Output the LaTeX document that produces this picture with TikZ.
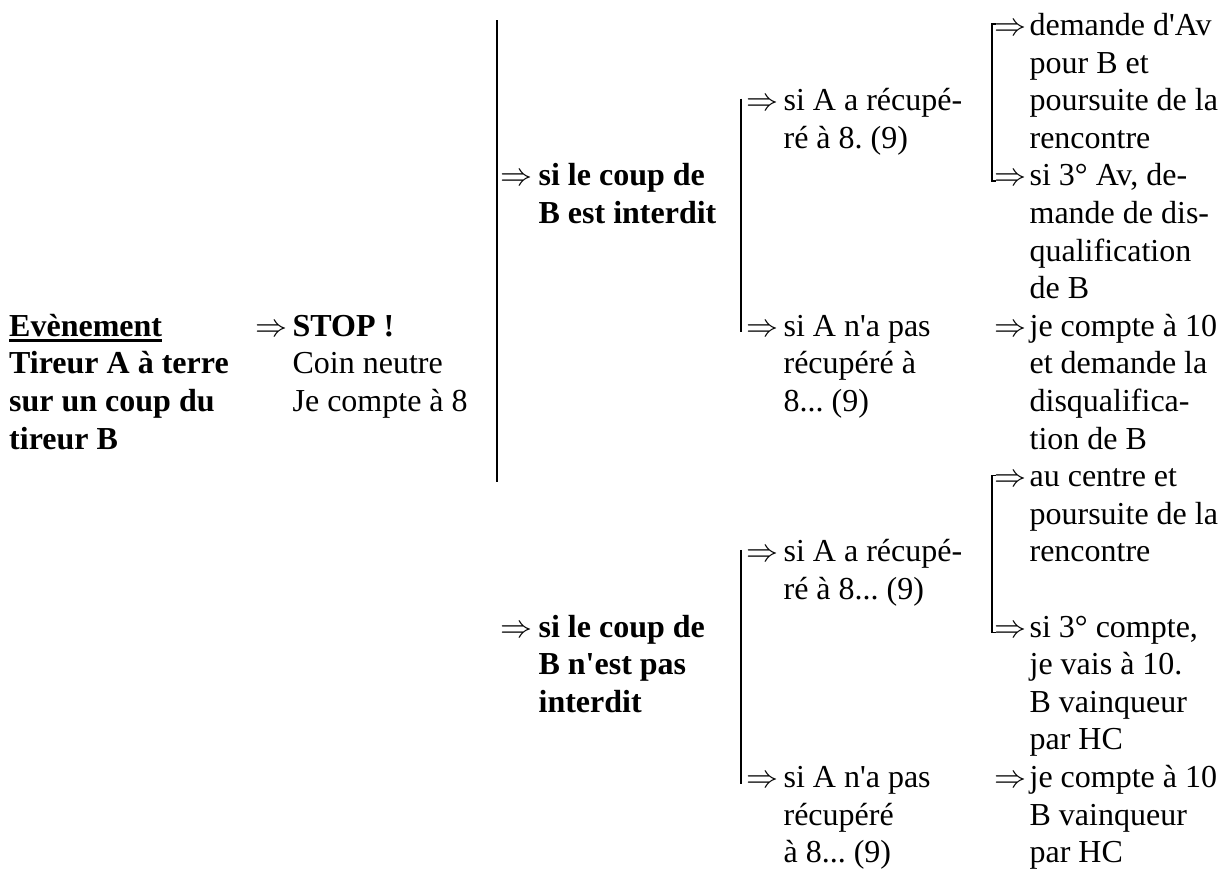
\RequirePackage{fix-cm}
\documentclass[tikz,border=0pt]{standalone}
\usepackage{fontspec}
\setmainfont{Liberation Serif}
\usetikzlibrary{calc,positioning}
\frenchspacing
\newcommand{\ap}{\textquotesingle}
\newcommand{\koUnder}[1]{\sbox0{#1}\rlap{\rule[-5.5pt]{\wd0}{2.6pt}}\usebox0}
\newcommand{\koLines}[1]{\begin{tabular}[t]{@{}l@{}}#1\end{tabular}}
\tikzset{
  koText/.style={
    inner sep=0pt,
    font=\fontsize{32}{37.6}\selectfont
  },
  koBold/.style={koText, font=\fontsize{32}{37.6}\selectfont\bfseries},
  koArrow/.style={anchor=base west, inner sep=0pt, font=\fontsize{32}{37.6}\selectfont},
  koBracket/.style={draw=black, line width=1.8pt},
  koLine/.style={draw=black, line width=2.2pt}
}

\begin{document}
\begin{tikzpicture}[x=1pt, y=-1pt, node distance=5pt]
  \useasboundingbox (0,0) rectangle (1231,868);

  % evenement et arret
  \node[koBold, anchor=base west] (event) at (9,336.3)
    {\koLines{\koUnder{Evènement}\\Tireur A à terre\\sur un coup du\\tireur B}};
  \node[koArrow] (stopArr) at (255,336.3) {$\Rightarrow$};
  \node[koText, right=of stopArr.base east, anchor=base west] (stop)
    {\koLines{\textbf{STOP !}\\Coin neutre\\Je compte à 8}};

  \coordinate (splitTop) at (497,20);
  \coordinate (splitBot) at (497,482);
  \draw[koLine] (splitTop) -- (splitBot);

  % nature du coup
  \node[koArrow] (coupArr1) at (500,185.9) {$\Rightarrow$};
  \node[koBold, right=6pt of coupArr1.base east, anchor=base west] (coup1)
    {\koLines{si le coup de\\B est interdit}};
  \node[koArrow] (coupArr2) at (500,637.1) {$\Rightarrow$};
  \node[koBold, right=6pt of coupArr2.base east, anchor=base west] (coup2)
    {\koLines{si le coup de\\B n\ap est pas\\interdit}};

  % recuperation
  \node[koArrow] (recArr1) at (746,110.7) {$\Rightarrow$};
  \node[koText, right=of recArr1.base east, anchor=base west] (rec1)
    {\koLines{si A a récupé-\\ré à 8. (9)}};
  \node[koArrow] (recArr2) at (746,336.3) {$\Rightarrow$};
  \node[koText, right=of recArr2.base east, anchor=base west] (rec2)
    {\koLines{si A n\ap a pas\\récupéré à\\8... (9)}};
  \node[koArrow] (recArr3) at (746,561.9) {$\Rightarrow$};
  \node[koText, right=of recArr3.base east, anchor=base west] (rec3)
    {\koLines{si A a récupé-\\ré à 8... (9)}};
  \node[koArrow] (recArr4) at (746,787.5) {$\Rightarrow$};
  \node[koText, right=of recArr4.base east, anchor=base west] (rec4)
    {\koLines{si A n\ap a pas\\récupéré\\à 8... (9)}};

  % decisions
  \node[koArrow] (finArr1) at (994,35.5) {$\Rightarrow$};
  \node[koText, right=3pt of finArr1.base east, anchor=base west] (fin1)
    {\koLines{demande d\ap Av\\pour B et\\poursuite de la\\rencontre}};
  \node[koArrow] (finArr2) at (994,185.9) {$\Rightarrow$};
  \node[koText, right=3pt of finArr2.base east, anchor=base west] (fin2)
    {\koLines{si 3° Av, de-\\mande de dis-\\qualification\\de B}};
  \node[koArrow] (finArr3) at (994,336.3) {$\Rightarrow$};
  \node[koText, right=3pt of finArr3.base east, anchor=base west] (fin3)
    {\koLines{je compte à 10\\et demande la\\disqualifica-\\tion de B}};
  \node[koArrow] (finArr4) at (994,486.7) {$\Rightarrow$};
  \node[koText, right=3pt of finArr4.base east, anchor=base west] (fin4)
    {\koLines{au centre et\\poursuite de la\\rencontre}};
  \node[koArrow] (finArr5) at (994,637.1) {$\Rightarrow$};
  \node[koText, right=3pt of finArr5.base east, anchor=base west] (fin5)
    {\koLines{si 3° compte,\\je vais à 10.\\B vainqueur\\par HC}};
  \node[koArrow] (finArr6) at (994,787.5) {$\Rightarrow$};
  \node[koText, right=3pt of finArr6.base east, anchor=base west] (fin6)
    {\koLines{je compte à 10\\B vainqueur\\par HC}};

  % accolades
  \foreach \a/\b in {recArr1/recArr2,recArr3/recArr4}
    \draw[koBracket] ($(\a.base west)+(-5,-12)$) -- ($(\b.base west)+(-5,-4)$);
  \foreach \a/\b in {finArr1/finArr2,finArr4/finArr5}
    \draw[koBracket] ($(\a.base west)+(2,-11.3)$) -- ++(-4,0)
      |- ($(\b.base west)+(2,-4.7)$);
\end{tikzpicture}
\end{document}
